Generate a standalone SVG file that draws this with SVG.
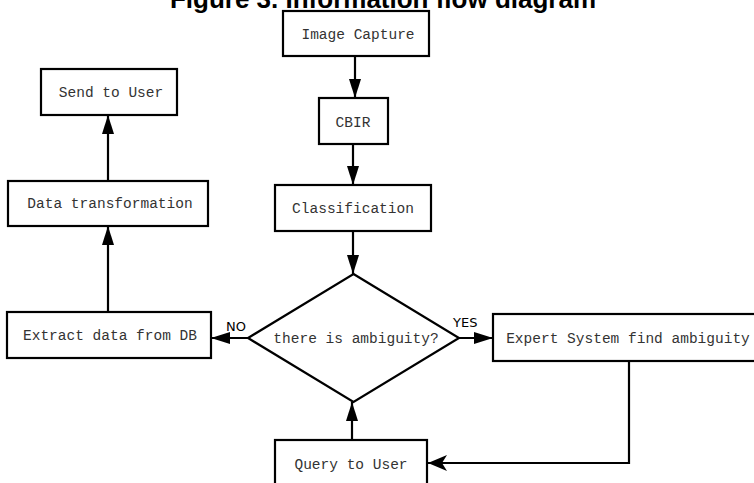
<svg xmlns="http://www.w3.org/2000/svg" width="754" height="483" viewBox="0 0 754 483">
<defs>
<style>
.box{fill:#fff;stroke:#000;stroke-width:2.2}
.t{font-family:"Liberation Mono","Courier New",monospace;font-size:14.5px;fill:#333;text-anchor:middle}
.lbl{font-family:"DejaVu Sans",sans-serif;font-size:13px;fill:#000}
.ln{fill:none;stroke:#000;stroke-width:2.2}
</style>
<marker id="tri" markerUnits="userSpaceOnUse" markerWidth="20" markerHeight="14" viewBox="0 0 20 14" refX="19" refY="7" orient="auto">
<path d="M0,1 L19,7 L0,13 Z" fill="#000"/>
</marker>
<marker id="stealth" markerUnits="userSpaceOnUse" markerWidth="20" markerHeight="18" viewBox="0 0 20 18" refX="19" refY="9" orient="auto">
<path d="M0,1 L19,9 L0,17 L5,9 Z" fill="#000"/>
</marker>
</defs>
<rect width="754" height="483" fill="#fff"/>
<text x="383" y="8" font-family="'Liberation Sans',Arial,sans-serif" font-size="26" font-weight="bold" text-anchor="middle" fill="#000">Figure 3. Information flow diagram</text>
<g id="connectors">
<line class="ln" x1="355" y1="56" x2="355" y2="98" marker-end="url(#tri)"/>
<line class="ln" x1="353" y1="144" x2="353" y2="185" marker-end="url(#tri)"/>
<line class="ln" x1="353" y1="231" x2="353" y2="274" marker-end="url(#tri)"/>
<line class="ln" x1="248" y1="338" x2="211" y2="338" marker-end="url(#tri)"/>
<line class="ln" x1="459" y1="338" x2="493" y2="338" marker-end="url(#tri)"/>
<polyline class="ln" points="629,361 629,463 428,463" marker-end="url(#stealth)"/>
<line class="ln" x1="352" y1="440" x2="352" y2="402" marker-end="url(#tri)"/>
<line class="ln" x1="108" y1="312" x2="108" y2="226" marker-end="url(#tri)"/>
<line class="ln" x1="108" y1="181" x2="108" y2="115" marker-end="url(#tri)"/>
<text class="lbl" x="226" y="331">NO</text>
<text class="lbl" x="453" y="327">YES</text>
</g>
<g id="image-capture"><rect class="box" x="283" y="11" width="146" height="45"/><text class="t" x="358" y="39">Image Capture</text></g>
<g id="cbir"><rect class="box" x="319" y="98" width="69" height="46"/><text class="t" x="353" y="127">CBIR</text></g>
<g id="classification"><rect class="box" x="275" y="185" width="156" height="46"/><text class="t" x="353" y="213">Classification</text></g>
<g id="decision"><polygon class="box" points="353.5,274 459,338 353.5,402 248,338"/><text class="t" x="356" y="343">there is ambiguity?</text></g>
<g id="extract"><rect class="box" x="7" y="312" width="204" height="46"/><text class="t" x="110" y="340">Extract data from DB</text></g>
<g id="data-transformation"><rect class="box" x="8" y="181" width="200" height="45"/><text class="t" x="110" y="208">Data transformation</text></g>
<g id="send-to-user"><rect class="box" x="41" y="69" width="136" height="46"/><text class="t" x="111" y="97">Send to User</text></g>
<g id="expert"><rect class="box" x="493" y="314" width="272" height="47"/><text class="t" x="628" y="343">Expert System find ambiguity</text></g>
<g id="query"><rect class="box" x="275" y="440" width="152" height="50"/><text class="t" x="351" y="469">Query to User</text></g>
</svg>
